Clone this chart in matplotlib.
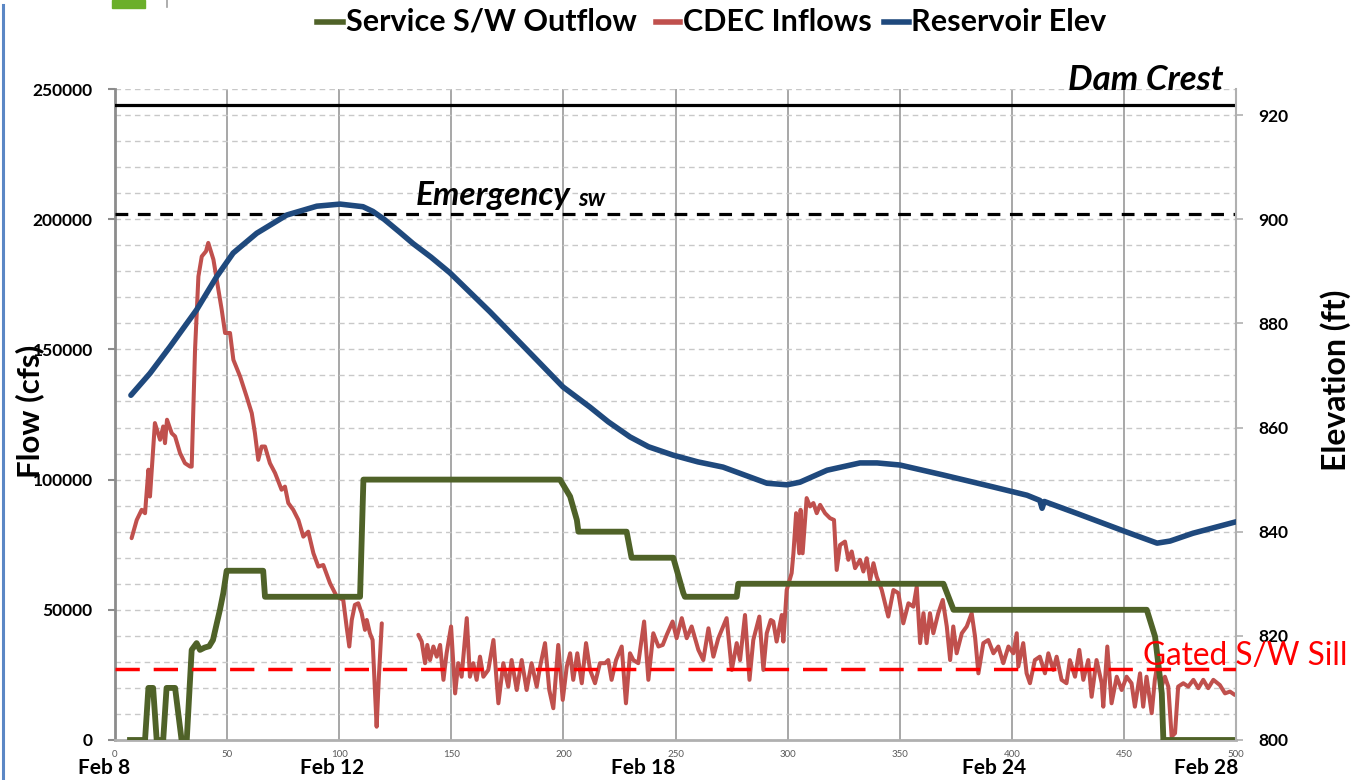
import matplotlib
matplotlib.use("Agg")
import matplotlib.pyplot as plt
from matplotlib.lines import Line2D
from matplotlib.patches import Rectangle
from matplotlib.ticker import MultipleLocator
import matplotlib.transforms as mtransforms

plt.rcParams['font.family'] = ['Lato', 'DejaVu Sans']

# ---------------- data ----------------
outflow_hours = [6.7, 13.4, 14.9, 17.0, 18.6, 21.5, 23.0, 26.8, 29.7, 32.0, 34.2, 36.4, 37.9, 40.0,
                 42.0, 43.7, 45.4, 46.8, 48.3, 49.8, 66.1, 66.9, 109.3, 110.8, 198.5, 203.0, 206.0,
                 206.7, 228.2, 230.4, 249.0, 253.5, 254.2, 277.3, 278.0, 369.5, 374.0, 460.2,
                 463.9, 466.9, 467.6, 500.0]
outflow_cfs = [0, 0, 20000, 20000, 0, 0, 20000, 20000, 0, 0, 34600, 37200, 34600, 35500,
               36000, 38400, 44800, 50000, 56400, 65000, 65000, 55000, 55000, 100000, 100000, 93500, 84500,
               80000, 80000, 70000, 70000, 56400, 55000, 55000, 60000, 60000, 50000, 50000,
               39700, 17900, 0, 0]

inflow_hours_a = [7.4, 9.7, 11.9, 13.4, 14.9, 15.6, 16.4, 17.8, 20.1, 21.5, 22.3, 23.2, 25.3, 26.8,
                  29.0, 31.2, 33.5, 34.2, 35.7, 37.2, 38.7, 40.6, 41.6, 43.9, 46.1, 47.6, 49.1,
                  51.3, 52.8, 55.8, 58.7, 61.0, 62.4, 63.9, 65.4, 66.9, 69.1, 71.4, 74.3, 75.8,
                  77.3, 79.5, 81.8, 84.0, 86.2, 88.5, 90.7, 92.9, 95.9, 98.9, 101.8, 103.3, 104.5,
                  105.6, 107.0, 108.5, 110.0, 111.5, 112.3, 113.7, 114.9, 116.0, 116.7, 117.7, 119.0]
inflow_cfs_a = [77500, 84500, 88400, 87100, 103800, 93500, 103800, 121700, 115300, 120400, 114000,
                123000, 117800, 116600, 110200, 106300, 105000, 105000, 149900, 178000, 185700,
                187700, 190900, 184500, 173000, 165200, 156300, 156300, 146000, 139600, 131900,
                125500, 117900, 107600, 112700, 112700, 106300, 102500, 96100, 97300, 91000, 88400,
                84500, 78100, 80000, 71700, 66600, 67200, 60200, 55100, 53800, 43500, 35900, 46100,
                51900, 52500, 48700, 42300, 46100, 41000, 38400, 17900, 5100, 24300, 44800]

inflow_hours_b = [135.3, 136.8, 138.3, 139.3, 140.5, 142.0, 143.5, 145.0, 146.5, 147.9, 149.9, 151.7,
                  153.1, 154.6, 156.9, 158.3, 159.8, 161.3, 162.8, 164.3, 166.5, 168.8, 171.0,
                  173.2, 175.4, 176.9, 179.2, 181.4, 183.6, 185.8, 188.1, 189.6, 191.8, 193.7,
                  195.5, 197.7, 199.7, 201.5, 203.0, 204.4, 206.2, 208.2, 210.1, 211.9, 214.1,
                  216.3, 218.6, 220.0, 221.5, 223.5, 226.0, 227.9, 229.7, 231.2, 233.4, 236.0,
                  237.9, 240.1, 242.4, 244.3, 246.1, 248.7, 250.5, 252.8, 255.0, 257.2, 260.2,
                  262.4, 264.7, 266.9, 269.1, 272.8, 275.1, 277.3, 278.8, 281.0, 283.0, 284.7,
                  287.4, 289.2, 290.7, 292.5, 293.6, 295.1, 297.4, 298.1,
                  299.6, 301.8, 302.6, 303.8, 305.2, 305.8, 306.7, 308.5, 310.0, 311.5, 313.0,
                  314.5, 316.7, 318.9, 320.7, 321.9, 323.4, 325.6, 327.1, 328.6, 330.1, 332.3,
                  333.8, 335.3, 336.8, 338.3, 339.7, 342.0, 344.9, 347.2, 349.4, 351.6, 353.9,
                  356.1, 357.6, 359.1, 360.6, 362.0, 363.5, 365.0, 367.2, 369.2, 371.0, 372.5,
                  373.9, 375.4, 377.7, 379.9, 382.1, 383.6, 385.1, 387.3, 389.5, 391.8, 394.0,
                  396.2, 398.5, 400.7, 402.2,
                  402.9, 405.1, 406.6, 408.1, 410.3, 412.5, 414.8, 416.3, 418.5, 420.0, 422.2,
                  424.4, 425.9, 428.2, 430.1, 431.9, 434.1, 435.6, 437.8, 440.1, 440.8, 442.6,
                  444.5, 446.8, 449.0, 451.2, 453.4, 454.9, 457.2, 458.6, 460.1, 462.4, 463.8,
                  465.3, 466.8, 468.3, 469.8, 471.3, 472.8, 474.2, 476.5, 478.7, 481.0, 483.2,
                  485.4, 487.6, 489.9, 492.8, 495.1, 497.3, 499.5]
inflow_cfs_b = [40400, 37800, 29500, 36500, 30700, 35900, 32000, 36500, 23100, 33300, 43600, 17900,
                29500, 24300, 46800, 24300, 29500, 23100, 32000, 24300, 26900, 38400, 14100,
                29500, 20500, 30700, 19200, 30700, 19200, 29500, 20500, 28200, 37200, 19200,
                12200, 36500, 15400, 28200, 33300, 23100, 33300, 21800, 37200, 26900, 21800,
                29500, 29500, 30700, 23100, 30700, 35900, 14100, 33300, 30700, 29500, 45500,
                23100, 41000, 35900, 36500, 40400, 45500, 39100, 46800, 39100, 43600, 34600,
                30700, 42900, 32000, 39100, 46800, 26900, 37200, 30700, 48000, 23100, 38400,
                47400, 26900, 41000, 46100, 45500, 37800, 48000, 37800,
                57600, 64100, 71700, 87100, 71700, 88400, 71700, 92900, 89700, 91000, 87100,
                90300, 87100, 85200, 84500, 65300, 74900, 76200, 69200, 72400, 66000, 69200,
                64700, 69800, 61500, 67900, 62800, 57600, 47400, 57600, 56400, 44800, 52500,
                51200, 58900, 37200, 48700, 37200, 48700, 41000, 48700, 53800, 43600, 30700,
                43600, 33300, 41000, 43600, 48700, 39700, 25600, 37200, 38400, 33300, 35900,
                29500, 35900, 33300, 41000,
                28200, 37200, 25600, 21800, 30700, 32000, 25600, 33300, 26900, 32000, 23100,
                21800, 30700, 24300, 34600, 23100, 30700, 16600, 30700, 21800, 12800, 35900,
                14100, 24300, 19200, 24300, 21800, 12800, 25600, 12800, 24300, 10300, 23100,
                30700, 20500, 24300, 20500, 1300, 2600, 20500, 21800, 20500, 23100, 19900,
                23100, 19900, 23100, 21100, 17900, 18600, 17300]

elev_hours = [7.1, 15.6, 24.5, 36.4, 45.4, 52.7, 63.2, 76.6, 90.0, 100.4, 110.6, 115.0, 120.0,
              127.0, 133.0, 141.0, 149.4, 158.0, 167.3, 183.8, 199.8, 211.9, 220.0, 229.7, 238.0,
              248.9, 260.0, 271.2, 290.8, 299.7, 305.5, 317.6,
              332.3, 339.9, 350.1, 369.3, 391.6, 406.8, 412.5, 413.5, 414.5, 429.1, 451.4, 464.8,
              470.6, 480.8, 500.0]
elev_ft = [866.2, 870.4, 875.5, 882.6, 889.0, 893.5, 897.3, 900.8, 902.5, 902.9, 902.4, 901.5, 900.0,
           897.5, 895.3, 892.7, 889.7, 886.1, 882.2, 874.9, 867.8, 863.9, 861.1, 858.2, 856.3,
           854.7, 853.4, 852.4, 849.3, 849.0, 849.5, 851.8,
           853.2, 853.2, 852.8, 850.9, 848.6, 847.0, 846.0, 844.5, 845.8, 843.5, 839.9, 837.8,
           838.2, 839.7, 841.9]

dam_crest_ft = 922.0
emergency_sw_ft = 901.0
gated_sill_ft = 813.6

day_labels = ["Feb 8", "Feb 12", "Feb 18", "Feb 24", "Feb 28"]
day_label_hours = [-5, 97, 235.5, 392, 486.6]

legend_labels = ["Service S/W Outflow", "CDEC Inflows", "Reservoir Elev"]

# ---------------- style ----------------
W, H = 1352, 780
GREEN = '#4F6228'
RED = '#C0504D'
BLUE = '#1F497D'

fig = plt.figure(figsize=(W / 100, H / 100), dpi=100)
fig.patch.set_facecolor('white')

x0, x1 = 115, 1236
y_top, y_bot = 89, 740
ax = fig.add_axes([x0 / W, 1 - y_bot / H, (x1 - x0) / W, (y_bot - y_top) / H])
ax2 = ax.twinx()

ax.set_xlim(0, 500)
ax.set_ylim(0, 250000)
ax2.set_ylim(800, 925)

# grid
ax.set_axisbelow(True)
ax.yaxis.set_major_locator(MultipleLocator(50000))
ax.yaxis.set_minor_locator(MultipleLocator(10000))
ax.grid(which='both', axis='y', color='#C8C8C8', lw=1.0, ls=(0, (4, 3)))
ax.xaxis.set_major_locator(MultipleLocator(50))
ax.grid(which='major', axis='x', color='#A0A0A0', lw=1.3, ls='-')

# lines
ax.plot(inflow_hours_a, inflow_cfs_a, color=RED, lw=2.9, solid_joinstyle='round',
        solid_capstyle='round', zorder=3)
ax.plot(inflow_hours_b, inflow_cfs_b, color=RED, lw=2.9, solid_joinstyle='round',
        solid_capstyle='round', zorder=3)
ax.plot(outflow_hours, outflow_cfs, color=GREEN, lw=4.2, solid_joinstyle='round', zorder=4)

ax2.axhline(dam_crest_ft, color='black', lw=2.3, zorder=2)
ax2.axhline(emergency_sw_ft, color='black', lw=2.3, ls=(0, (4, 3)), zorder=2)
ax2.axhline(gated_sill_ft, color='#FF0000', lw=2.5, ls=(0, (7, 4)), zorder=5)
ax2.plot(elev_hours, elev_ft, color=BLUE, lw=4.0, solid_joinstyle='round',
         solid_capstyle='round', zorder=4)

# spines
for a in (ax, ax2):
    a.spines['top'].set_visible(False)
ax.spines['left'].set_color('#8C8C8C')
ax.spines['left'].set_linewidth(2.0)
ax.spines['bottom'].set_color('#B0B0B0')
ax.spines['bottom'].set_linewidth(2.0)
ax2.spines['right'].set_color('#B0B0B0')
ax2.spines['right'].set_linewidth(1.5)
ax2.spines['left'].set_visible(False)
ax2.spines['bottom'].set_visible(False)
ax.spines['right'].set_visible(False)

# ticks
ax.tick_params(axis='y', which='major', length=5, width=1.5, color='#8C8C8C', pad=11, labelsize=12)
ax.tick_params(axis='y', which='minor', length=0)
ax.set_yticks(range(0, 250001, 50000))
ax.set_yticklabels([str(v) for v in range(0, 250001, 50000)], fontweight='bold', fontsize=12.5)
ax.tick_params(axis='x', length=0, pad=7, labelsize=7, labelcolor='#595959')
ax.set_xticks(range(0, 501, 50))
ax.set_xticklabels([str(v) for v in range(0, 501, 50)])
ax2.set_yticks(range(800, 921, 20))
ax2.set_yticklabels([str(v) for v in range(800, 921, 20)], fontweight='bold', fontsize=12.5)
ax2.tick_params(axis='y', length=5, width=1.2, color='#B0B0B0', pad=11)

# axis labels
fig.text(30 / W, 1 - 411 / H, "Flow (cfs)", rotation=90, ha='center', va='center',
         fontsize=22.5, fontweight='bold')
fig.text(1336 / W, 1 - 380 / H, "Elevation (ft)", rotation=90, ha='center', va='center',
         fontsize=23, fontweight='bold')

# day labels
trans = mtransforms.blended_transform_factory(ax.transData, fig.transFigure)
for lab, h in zip(day_labels, day_label_hours):
    ax.text(h, 1 - 768 / H, lab, transform=trans, ha='center', va='center',
            fontsize=15, fontweight='bold', clip_on=False)

# annotations
ftrans = fig.transFigure
fig.text(1146 / W, 1 - 80 / H, "Dam Crest", ha='center', va='center', fontsize=25,
         fontweight='bold', style='italic')
fig.text(493 / W, 1 - 196 / H, "Emergency", ha='center', va='center', fontsize=24,
         fontweight='bold', style='italic')
fig.text(592 / W, 1 - 199 / H, "sw", ha='center', va='center', fontsize=17,
         fontweight='bold', style='italic')
fig.text(1143 / W, 1 - 656 / H, "Gated S/W Sill", ha='left', va='center', fontsize=22.8,
         color='#FF0000')

# legend (manual)
leg_items = [(317, 343, 346, GREEN), (656, 680, 683, RED), (884, 909, 911, BLUE)]
for (hx0, hx1, tx, col), lab in zip(leg_items, legend_labels):
    fig.add_artist(Line2D([hx0 / W, hx1 / W], [1 - 22 / H, 1 - 22 / H], color=col, lw=4.0,
                          transform=ftrans))
    fig.text(tx / W, 1 - 22 / H, lab, ha='left', va='center', fontsize=22, fontweight='bold')

# slide artifacts: left blue edge, small green icon
fig.add_artist(Line2D([3 / W, 3 / W], [0, 1 - 5 / H], color='#5B87C5', lw=2.2, transform=ftrans))
fig.add_artist(Rectangle((112 / W, 1 - 8 / H), 33 / W, 8 / H, color='#6BAF2A', transform=ftrans))
fig.add_artist(Line2D([167 / W, 167 / W], [1 - 7 / H, 1], color='#A0A0A0', lw=1.2, transform=ftrans))

fig.savefig('out.png', dpi=100, facecolor='white')
